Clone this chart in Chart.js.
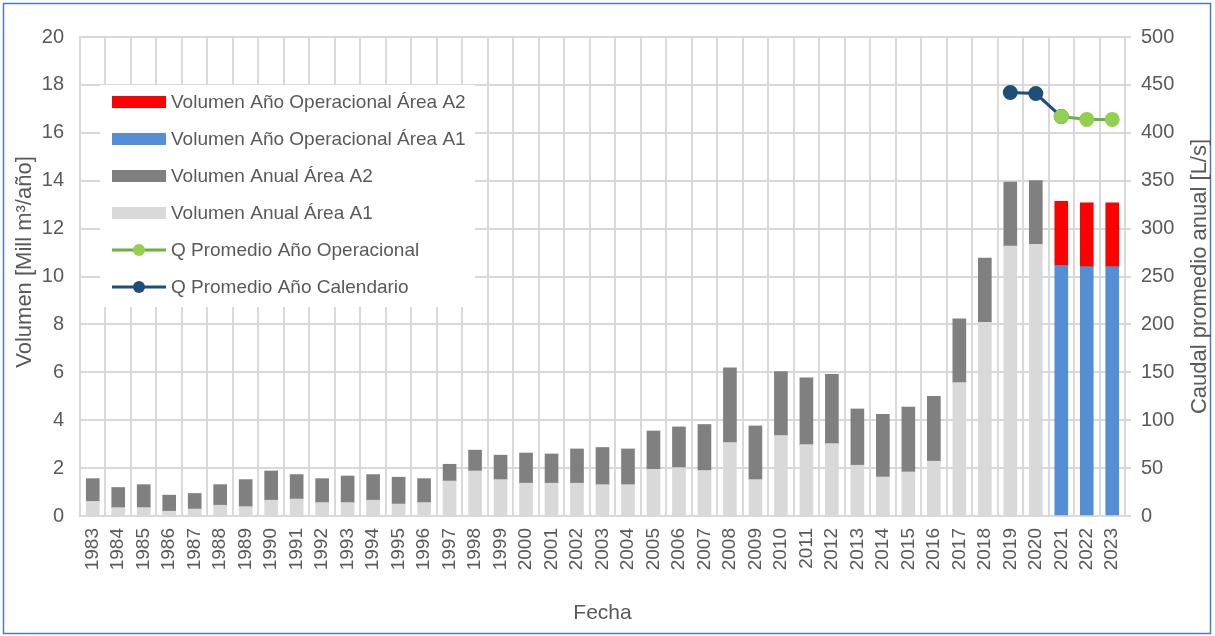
<!DOCTYPE html>
<html>
<head>
<meta charset="utf-8">
<script src="https://cdn.jsdelivr.net/npm/chart.js@4"></script>
<style>
  html, body { margin: 0; padding: 0; background: #fff; }
  #wrap { width: 1215px; height: 636px; position: relative; }
</style>
</head>
<body>
<div id="wrap"><canvas id="chart" width="1215" height="636"></canvas></div>
<script>
// categories
const years = ['1983','1984','1985','1986','1987','1988','1989','1990','1991','1992','1993','1994','1995','1996','1997','1998','1999','2000','2001','2002','2003','2004','2005','2006','2007','2008','2009','2010','2011','2012','2013','2014','2015','2016','2017','2018','2019','2020','2021','2022','2023'];

// volúmenes [Mill m3/año]
const anualA1 = [0.61,0.35,0.35,0.20,0.29,0.45,0.39,0.66,0.71,0.56,0.56,0.66,0.50,0.56,1.46,1.88,1.52,1.37,1.37,1.37,1.31,1.31,1.95,2.02,1.90,3.07,1.52,3.36,2.98,3.02,2.12,1.63,1.84,2.29,5.57,8.09,11.27,11.34,null,null,null];
const anualA2 = [0.95,0.84,0.96,0.67,0.65,0.86,1.13,1.22,1.02,1.00,1.11,1.07,1.12,1.00,0.70,0.87,1.02,1.26,1.22,1.43,1.55,1.49,1.60,1.70,1.92,3.12,2.24,2.67,2.79,2.90,2.35,2.62,2.71,2.71,2.66,2.68,2.67,2.66,null,null,null];
const operA1 = [null,null,null,null,null,null,null,null,null,null,null,null,null,null,null,null,null,null,null,null,null,null,null,null,null,null,null,null,null,null,null,null,null,null,null,null,null,null,10.46,10.41,10.41];
const operA2 = [null,null,null,null,null,null,null,null,null,null,null,null,null,null,null,null,null,null,null,null,null,null,null,null,null,null,null,null,null,null,null,null,null,null,null,null,null,null,2.68,2.67,2.67];

// caudales [L/s]
const qCalendario = [null,null,null,null,null,null,null,null,null,null,null,null,null,null,null,null,null,null,null,null,null,null,null,null,null,null,null,null,null,null,null,null,null,null,null,null,442,441,417,null,null];
const qOperacional = [null,null,null,null,null,null,null,null,null,null,null,null,null,null,null,null,null,null,null,null,null,null,null,null,null,null,null,null,null,null,null,null,null,null,null,null,null,null,417,414,414];

const FONT = "'Liberation Sans', Arial, sans-serif";
const TXT = '#595959';
const GRID = '#D9D9D9';

// legend drawn inside the plot (white box over the grid)
const legendOrder = [3, 2, 1, 0, 4, 5];
const insideLegend = {
  id: 'insideLegend',
  beforeDatasetsDraw(chart) {
    const ctx = chart.ctx;
    ctx.save();
    ctx.fillStyle = '#fff';
    ctx.fillRect(100, 85, 375, 222);
    ctx.font = '19px ' + FONT;
    ctx.textBaseline = 'middle';
    ctx.fillStyle = TXT;
    legendOrder.forEach((di, i) => {
      const ds = chart.data.datasets[di];
      const y = 102 + i * 37;
      if (ds.type === 'line') {
        ctx.strokeStyle = ds.borderColor;
        ctx.lineWidth = 3;
        ctx.beginPath(); ctx.moveTo(112, y); ctx.lineTo(166, y); ctx.stroke();
        ctx.fillStyle = ds.pointBackgroundColor;
        ctx.beginPath(); ctx.arc(139, y, 6, 0, Math.PI * 2); ctx.fill();
      } else {
        ctx.fillStyle = ds.backgroundColor;
        ctx.fillRect(112, y - 6, 54, 12);
      }
      ctx.fillStyle = TXT;
      ctx.fillText(ds.label, 171, y + 1);
    });
    ctx.restore();
  },
  afterDraw(chart) {
    const ctx = chart.ctx;
    const a = chart.chartArea;
    ctx.save();
    // marco
    ctx.strokeStyle = '#4A7EBB';
    ctx.lineWidth = 1.5;
    ctx.strokeRect(3.5, 3.5, 1207, 630);
    ctx.font = '22px ' + FONT;
    ctx.fillStyle = TXT;
    ctx.textAlign = 'center';
    ctx.textBaseline = 'middle';
    // título eje izquierdo
    ctx.save();
    ctx.translate(25, 262);
    ctx.rotate(-Math.PI / 2);
    ctx.fillText('Volumen [Mill m³/año]', 0, 0);
    ctx.restore();
    // título eje derecho (lee de abajo hacia arriba)
    ctx.translate(1200, (a.top + a.bottom) / 2);
    ctx.rotate(-Math.PI / 2);
    ctx.fillText('Caudal promedio anual [L/s]', 0, 0);
    ctx.restore();
  }
};

new Chart(document.getElementById('chart'), {
  type: 'bar',
  data: {
    labels: years,
    datasets: [
      { label: 'Volumen Anual Área A1', data: anualA1, backgroundColor: '#D9D9D9', stack: 'v', yAxisID: 'y', order: 2, barThickness: 13 },
      { label: 'Volumen Anual Área A2', data: anualA2, backgroundColor: '#808080', stack: 'v', yAxisID: 'y', order: 2, barThickness: 13 },
      { label: 'Volumen Año Operacional Área A1', data: operA1, backgroundColor: '#558ED5', stack: 'v', yAxisID: 'y', order: 2, barThickness: 13 },
      { label: 'Volumen Año Operacional Área A2', data: operA2, backgroundColor: '#FF0000', stack: 'v', yAxisID: 'y', order: 2, barThickness: 13 },
      { type: 'line', label: 'Q Promedio Año Operacional', data: qOperacional, yAxisID: 'y1', order: 0,
        borderColor: '#70AD47', borderWidth: 3, pointBackgroundColor: '#92D050', pointBorderColor: '#92D050',
        pointRadius: 6, pointHoverRadius: 6, spanGaps: false },
      { type: 'line', label: 'Q Promedio Año Calendario', data: qCalendario, yAxisID: 'y1', order: 1,
        borderColor: '#1F4E79', borderWidth: 3, pointBackgroundColor: '#1F4E79', pointBorderColor: '#1F4E79',
        pointRadius: 6, pointHoverRadius: 6, spanGaps: false }
    ]
  },
  options: {
    responsive: false,
    animation: false,
    layout: { padding: { top: 37, left: 0, right: 0, bottom: 0 } },
    plugins: { legend: { display: false }, tooltip: { enabled: false } },
    scales: {
      x: {
        stacked: true,
        grid: { color: GRID, lineWidth: 2, offset: true, drawTicks: false },
        border: { color: GRID, width: 2 },
        ticks: { color: TXT, font: { family: FONT, size: 19 }, autoSkip: false, minRotation: 90, maxRotation: 90, padding: 12 },
        title: { display: true, text: 'Fecha', color: TXT, font: { family: FONT, size: 21 }, padding: { top: 0, bottom: 10 } },
        afterFit: s => { s.height = 120; }
      },
      y: {
        position: 'left',
        stacked: true,
        min: 0, max: 20,
        ticks: { stepSize: 2, color: TXT, font: { family: FONT, size: 20 }, padding: 16 },
        grid: { color: GRID, lineWidth: 2, drawTicks: false },
        border: { color: GRID, width: 2 },
        afterFit: s => { s.width = 80; }
      },
      y1: {
        position: 'right',
        min: 0, max: 500,
        ticks: { stepSize: 50, color: TXT, font: { family: FONT, size: 20 }, padding: 10 },
        grid: { drawOnChartArea: false, color: GRID, lineWidth: 2, tickLength: 6 },
        border: { color: GRID, width: 2 },
        afterFit: s => { s.width = 90; }
      }
    }
  },
  plugins: [insideLegend]
});
</script>
</body>
</html>
